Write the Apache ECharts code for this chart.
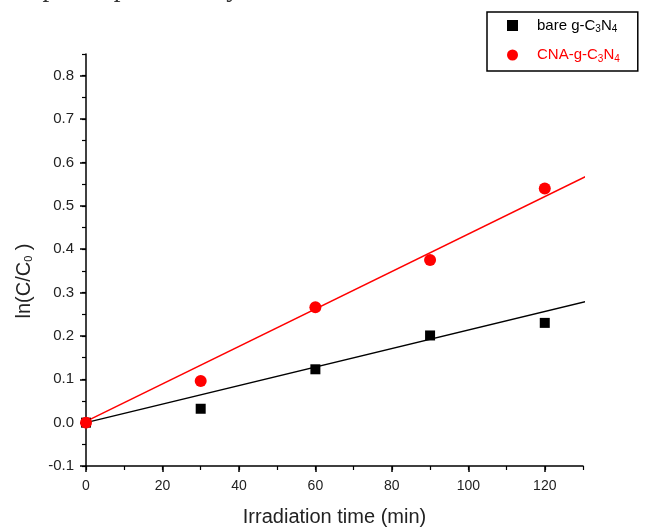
<!DOCTYPE html>
<html>
<head>
<meta charset="utf-8">
<script src="https://cdn.jsdelivr.net/npm/echarts@6/dist/echarts.min.js"></script>
<style>
html,body{margin:0;padding:0;background:#fff;}
#chart{width:648px;height:532px;}
</style>
</head>
<body>
<div id="chart"></div>
<script>
// ---- data ----
var times = [0, 30, 60, 90, 120];
var bareG = [0, 0.032, 0.123, 0.201, 0.230];
var cnaG = [0, 0.096, 0.266, 0.375, 0.540];
var fitX = [0, 132];
var bareFit = [0.0, 0.282];
var cnaFit = [0.003, 0.573];
var yMajorTicks = [-0.1, 0.0, 0.1, 0.2, 0.3, 0.4, 0.5, 0.6, 0.7, 0.8];
var xMajorTicks = [0, 20, 40, 60, 80, 100, 120];

function pairs(xs, ys) { return xs.map(function (x, i) { return [x, ys[i]]; }); }

var font = '"Liberation Sans", Arial, sans-serif';
var chart = echarts.init(document.getElementById('chart'));
var sub = { fontSize: 10, fontFamily: font, padding: [8, 0, 0, 0] };

chart.setOption({
  animation: false,
  backgroundColor: '#fff',
  grid: { left: 86, right: 65, top: 54, bottom: 65, containLabel: false },
  graphic: [{
    type: 'text', left: -4, top: -25,
    style: { text: 'composite photocatalyst.', font: '27px "Liberation Serif", "Times New Roman", serif', fill: '#333' }
  }],
  legend: {
    orient: 'vertical', left: 487, top: 12,
    padding: [6, 18, 7, 20], itemGap: 13,
    borderColor: '#000', borderWidth: 1.5,
    itemWidth: 11, itemHeight: 11,
    itemStyle: { opacity: 1 },
    data: [
      { name: 'bare', icon: 'rect', textStyle: { color: '#000' } },
      { name: 'cna', icon: 'circle', textStyle: { color: '#ff0000' } }
    ],
    formatter: function (n) {
      return n === 'bare' ? '{a|bare g-C}{s|3}{a|N}{s|4}' : '{a|CNA-g-C}{s|3}{a|N}{s|4}';
    },
    textStyle: {
      fontFamily: font, fontSize: 15, padding: [0, 0, 0, 14],
      rich: { a: { fontSize: 15, fontFamily: font }, s: sub }
    }
  },
  xAxis: [{
    type: 'value', min: 0, max: 130, interval: 10,
    axisLine: { show: true, onZero: false, lineStyle: { color: '#000', width: 1.5 } },
    axisTick: { show: true, length: 6, inside: false, customValues: xMajorTicks, lineStyle: { color: '#000', width: 1.5 } },
    axisLabel: { customValues: xMajorTicks, margin: 13, fontSize: 14, fontFamily: font, color: '#222' },
    splitLine: { show: false },
    name: 'Irradiation time (min)', nameLocation: 'middle', nameGap: 41,
    nameTextStyle: { fontSize: 20, fontFamily: font, color: '#222' }
  }, {
    type: 'value', min: 0, max: 130, interval: 10, position: 'bottom',
    axisLine: { show: false, onZero: false }, axisLabel: { show: false }, splitLine: { show: false },
    axisTick: { show: true, length: 4, lineStyle: { color: '#000', width: 1.2 } }
  }],
  yAxis: [{
    type: 'value', min: -0.1, max: 0.85, interval: 0.05,
    axisLine: { show: true, onZero: false, lineStyle: { color: '#000', width: 1.5 } },
    axisTick: { show: true, length: 6, customValues: yMajorTicks, lineStyle: { color: '#000', width: 1.5 } },
    axisLabel: { customValues: yMajorTicks, margin: 12, fontSize: 15, fontFamily: font, color: '#222',
      formatter: function (v) { return v.toFixed(1); } },
    splitLine: { show: false },
    name: 'ln(C/C{s|0} )', nameLocation: 'middle', nameGap: 52, nameRotate: 90,
    nameTextStyle: { fontSize: 20, fontFamily: font, color: '#222', padding: [0, 42, 0, 0],
      rich: { s: { fontSize: 11, fontFamily: font, color: '#222', padding: [9, 0, 0, 0] } } }
  }, {
    type: 'value', min: -0.1, max: 0.85, interval: 0.05, position: 'left',
    axisLine: { show: false, onZero: false }, axisLabel: { show: false }, splitLine: { show: false },
    axisTick: { show: true, length: 4, lineStyle: { color: '#000', width: 1.2 } }
  }],
  series: [
    { name: 'bareFit', type: 'line', clip: false, showSymbol: false, silent: true,
      data: pairs(fitX, bareFit), lineStyle: { color: '#000', width: 1.5 }, z: 2 },
    { name: 'cnaFit', type: 'line', clip: false, showSymbol: false, silent: true,
      data: pairs(fitX, cnaFit), lineStyle: { color: '#ff0000', width: 1.5 }, z: 2 },
    { name: 'bare', type: 'scatter', symbol: 'rect', symbolSize: 10,
      data: pairs(times, bareG), itemStyle: { color: '#000', opacity: 1 }, z: 3 },
    { name: 'cna', type: 'scatter', symbol: 'circle', symbolSize: 12,
      data: pairs(times, cnaG), itemStyle: { color: '#ff0000', opacity: 1 }, z: 4 }
  ]
});
</script>
</body>
</html>
